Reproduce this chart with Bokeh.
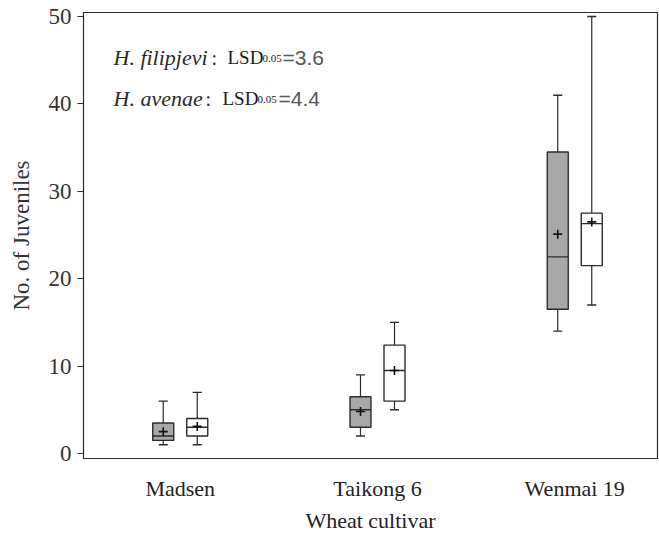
from bokeh.plotting import figure
from bokeh.models import Range1d, FixedTicker, Label, ColumnDataSource, Title
from bokeh.embed import file_html
from bokeh.resources import INLINE

cultivars = ["Madsen", "Taikong 6", "Wenmai 19"]
positions = [1, 2, 3]

# H. filipjevi (grey boxes)
hf_min = [1, 2, 14]
hf_q1 = [1.5, 3, 16.5]
hf_med = [2, 5, 22.5]
hf_q3 = [3.5, 6.5, 34.5]
hf_max = [6, 9, 41]
hf_mean = [2.5, 4.8, 25.1]

# H. avenae (white boxes)
ha_min = [1, 5, 17]
ha_q1 = [2, 6, 21.5]
ha_med = [3, 9.5, 26.3]
ha_q3 = [4, 12.4, 27.5]
ha_max = [7, 15, 50]
ha_mean = [3.1, 9.5, 26.5]

y_ticks = [0, 10, 20, 30, 40, 50]

SERIF = "Liberation Serif"
LINE = "#2b2b2b"

p = figure(width=659, height=535, output_backend="svg", toolbar_location=None,
           x_range=Range1d(0.5095, 3.4195), y_range=Range1d(-0.57, 50.46),
           min_border_left=83, min_border_right=2, min_border_top=12, min_border_bottom=77)
p.background_fill_color = "white"
p.border_fill_color = "white"
p.outline_line_color = LINE
p.outline_line_width = 1.2
p.xgrid.visible = False
p.ygrid.visible = False

offset = 0.0862
bw = 0.1065
cap = 0.046


def draw(off, mins, q1, med, q3, maxs, means, fill):
    xs = [x + off for x in positions]
    src = ColumnDataSource(dict(x=xs, mn=mins, q1=q1, med=med, q3=q3, mx=maxs, mean=means,
                                l=[x - bw / 2 for x in xs], r=[x + bw / 2 for x in xs],
                                cl=[x - cap / 2 for x in xs], cr=[x + cap / 2 for x in xs]))
    p.segment(x0="x", y0="q3", x1="x", y1="mx", source=src, line_color=LINE, line_width=1.2)
    p.segment(x0="x", y0="mn", x1="x", y1="q1", source=src, line_color=LINE, line_width=1.2)
    p.segment(x0="cl", y0="mx", x1="cr", y1="mx", source=src, line_color=LINE, line_width=1.4)
    p.segment(x0="cl", y0="mn", x1="cr", y1="mn", source=src, line_color=LINE, line_width=1.4)
    p.quad(left="l", right="r", bottom="q1", top="q3", source=src,
           fill_color=fill, line_color=LINE, line_width=1.4)
    p.segment(x0="l", y0="med", x1="r", y1="med", source=src, line_color=LINE, line_width=1.4)
    p.scatter(x="x", y="mean", source=src, marker="cross", size=9,
              line_color="#111111", line_width=1.6)


draw(-offset, hf_min, hf_q1, hf_med, hf_q3, hf_max, hf_mean, "#a8a8a8")
draw(offset, ha_min, ha_q1, ha_med, ha_q3, ha_max, ha_mean, "white")

xa = p.xaxis[0]
xa.ticker = FixedTicker(ticks=positions)
xa.major_label_overrides = {pos: name for pos, name in zip(positions, cultivars)}
xa.major_tick_out = 0
xa.major_tick_in = 0
xa.minor_tick_line_color = None
xa.axis_line_color = LINE
xa.major_label_standoff = 17
xa.major_label_text_font = SERIF
xa.major_label_text_font_size = "22px"
xa.major_label_text_color = "#222222"

# x axis title (sits a little right of the frame centre in the reference)
p.add_layout(Title(text="Wheat cultivar", align="center", offset=11, standoff=4,
                   text_font=SERIF, text_font_size="22px", text_font_style="normal",
                   text_color="#222222"), "below")

ya = p.yaxis[0]
ya.ticker = FixedTicker(ticks=y_ticks)
ya.major_tick_out = 6
ya.major_tick_in = 0
ya.major_tick_line_color = LINE
ya.minor_tick_line_color = None
ya.axis_line_color = LINE
ya.major_label_standoff = 6
ya.major_label_text_font = SERIF
ya.major_label_text_font_size = "23px"
ya.major_label_text_color = "#333333"
ya.axis_label = "No. of Juveniles"
ya.axis_label_text_font = SERIF
ya.axis_label_text_font_size = "23px"
ya.axis_label_text_font_style = "normal"
ya.axis_label_text_color = "#333333"
ya.axis_label_standoff = 12

lx = 0.6616
rows = [
    (45.3, "H. filipjevi", 98, 114, 149, 169, "=3.6"),
    (40.6, "H. avenae", 92, 109, 144, 165, "=4.4"),
]
for y, sp, o_colon, o_lsd, o_sub, o_eq, val in rows:
    p.add_layout(Label(x=lx, y=y, text=sp, text_font=SERIF, text_font_size="22px",
                       text_font_style="italic", text_color="#2a2a2a", text_baseline="alphabetic"))
    p.add_layout(Label(x=lx, y=y, x_offset=o_colon, text=":", text_font=SERIF,
                       text_font_size="20px", text_color="#2a2a2a", text_baseline="alphabetic"))
    p.add_layout(Label(x=lx, y=y, x_offset=o_lsd, text="LSD", text_font=SERIF,
                       text_font_size="19px", text_color="#1a1a1a", text_baseline="alphabetic"))
    p.add_layout(Label(x=lx, y=y, x_offset=o_sub, y_offset=-1, text="0.05", text_font=SERIF,
                       text_font_size="11px", text_color="#1a1a1a", text_baseline="alphabetic"))
    p.add_layout(Label(x=lx, y=y, x_offset=o_eq, text=val, text_font="Liberation Sans",
                       text_font_size="21px", text_color="#555555", text_baseline="alphabetic"))

open("out.html", "w").write(file_html(p, INLINE))
